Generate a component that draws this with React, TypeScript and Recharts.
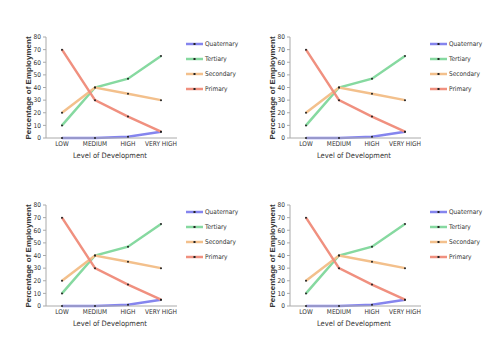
import { LineChart, Line, XAxis, YAxis } from 'recharts';

const categories = ['LOW', 'MEDIUM', 'HIGH', 'VERY HIGH'];
const quaternary = [0, 0, 1, 5];
const tertiary = [10, 40, 47, 65];
const secondary = [20, 40, 35, 30];
const primary = [70, 30, 17, 5];
const yTicks = [0, 10, 20, 30, 40, 50, 60, 70, 80];

const series = [
  { name: 'Quaternary', values: quaternary, color: '#8585ee' },
  { name: 'Tertiary', values: tertiary, color: '#86d9a0' },
  { name: 'Secondary', values: secondary, color: '#f3c08c' },
  { name: 'Primary', values: primary, color: '#f0907f' },
];

const data = categories.map((level, i) => {
  const row: Record<string, string | number> = { level };
  series.forEach((s) => { row[s.name] = s.values[i]; });
  return row;
});

const panels = [
  { left: 0, top: 0 },
  { left: 244, top: 0 },
  { left: 0, top: 168 },
  { left: 244, top: 168 },
];

const font = '"Liberation Sans Narrow", "DejaVu Sans Condensed", sans-serif';

function LegendBox() {
  return (
    <div style={{ fontFamily: font, fontSize: 6.5, color: '#333' }}>
      {series.map((s) => (
        <div key={s.name} style={{ display: 'flex', alignItems: 'center', height: 15 }}>
          <svg width={19} height={6}>
            <line x1={0} y1={3} x2={17} y2={3} stroke={s.color} strokeWidth={2.5} />
            <rect x={7.5} y={2} width={2} height={2} fill="#222" />
          </svg>
          <span>{s.name}</span>
        </div>
      ))}
    </div>
  );
}

function Panel() {
  return (
    <LineChart width={250} height={168} data={data} margin={{ top: 37, right: 73, left: 0, bottom: 0 }}>
      <XAxis
        dataKey="level"
        padding={{ left: 16, right: 16 }}
        interval={0}
        tickLine={false}
        tickSize={0}
        tickMargin={3}
        height={30}
        stroke="#aaa"
        tick={{ fill: '#333', fontSize: 6.5, fontFamily: font }}
        label={{
          content: () => (
            <text x={110} y={156} textAnchor="middle" dominantBaseline="middle" fill="#333" fontSize={7.5} fontFamily={font}>
              Level of Development
            </text>
          ),
        }}
      />
      <YAxis
        domain={[0, 80]}
        ticks={yTicks}
        interval={0}
        width={46}
        tickSize={3}
        tickMargin={2}
        stroke="#aaa"
        tick={{ fill: '#333', fontSize: 6.5, fontFamily: font }}
        label={{
          content: () => (
            <text x={29} y={88} transform="rotate(-90 29 88)" textAnchor="middle" dominantBaseline="middle" fill="#333" fontSize={8} fontWeight="bold" fontFamily="'Liberation Sans', sans-serif">
              Percentage of Employment
            </text>
          ),
        }}
      />
      {series.map((s) => (
        <Line
          key={s.name}
          dataKey={s.name}
          stroke={s.color}
          strokeWidth={2.5}
          dot={{ r: 1, fill: '#222', stroke: 'none' }}
          activeDot={false}
          isAnimationActive={false}
        />
      ))}
    </LineChart>
  );
}

export default function App() {
  return (
    <div style={{ position: 'absolute', left: 0, top: 0, width: 500, height: 353, background: '#fff' }}>
      {panels.map((p, i) => (
        <div key={i} style={{ position: 'absolute', left: p.left, top: p.top, width: 250, height: 168 }}>
          <Panel />
          <div style={{ position: 'absolute', left: 186, top: 36 }}>
            <LegendBox />
          </div>
        </div>
      ))}
    </div>
  );
}
